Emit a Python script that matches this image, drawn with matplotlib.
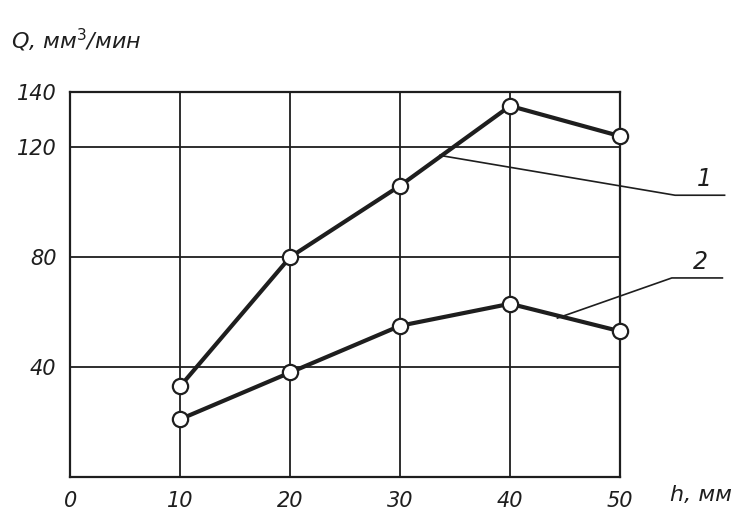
import matplotlib.pyplot as plt

# depth of cut, mm
h = [10, 20, 30, 40, 50]
# removal rate Q, mm^3/min
q1 = [33, 80, 106, 135, 124]
q2 = [21, 38, 55, 63, 53]

x_ticks = [0, 10, 20, 30, 40, 50]
y_ticks = [40, 80, 120, 140]

ink = "#1e1e1e"
fig = plt.figure(figsize=(7.4, 5.15), dpi=100)
ax = fig.add_axes([0.095, 0.074, 0.743, 0.747])

ax.set_xlim(0, 50)
ax.set_ylim(0, 140)
ax.set_xticks(x_ticks)
ax.set_yticks(y_ticks)
ax.set_xticklabels([str(v) for v in x_ticks], fontstyle="italic", fontsize=15, color=ink)
ax.set_yticklabels([str(v) for v in y_ticks], fontstyle="italic", fontsize=15, color=ink)
ax.tick_params(length=0, pad=10)
ax.grid(True, color=ink, linewidth=1.3)
for s in ax.spines.values():
    s.set_linewidth(1.6)
    s.set_color(ink)

for q in (q1, q2):
    ax.plot(h, q, color=ink, linewidth=3, marker="o", markersize=11,
            markerfacecolor="white", markeredgecolor=ink, markeredgewidth=1.6,
            zorder=3, clip_on=False)

# leader lines for curve labels
ax.plot([33.6, 55, 59.5], [117, 102.5, 102.5], color=ink, linewidth=1.2, clip_on=False)
ax.text(57.7, 104, "1", fontsize=17, fontstyle="italic", color=ink, ha="center", va="bottom")
ax.plot([44.3, 54.7, 59.3], [57.8, 72.4, 72.4], color=ink, linewidth=1.2, clip_on=False)
ax.text(57.3, 74, "2", fontsize=17, fontstyle="italic", color=ink, ha="center", va="bottom")

fig.text(0.015, 0.905, "Q, мм$^3$/мин", fontsize=16, color=ink, fontstyle="italic")
fig.text(0.905, 0.028, "h, мм", fontsize=16, color=ink, fontstyle="italic")

fig.savefig("out.png", dpi=100)
